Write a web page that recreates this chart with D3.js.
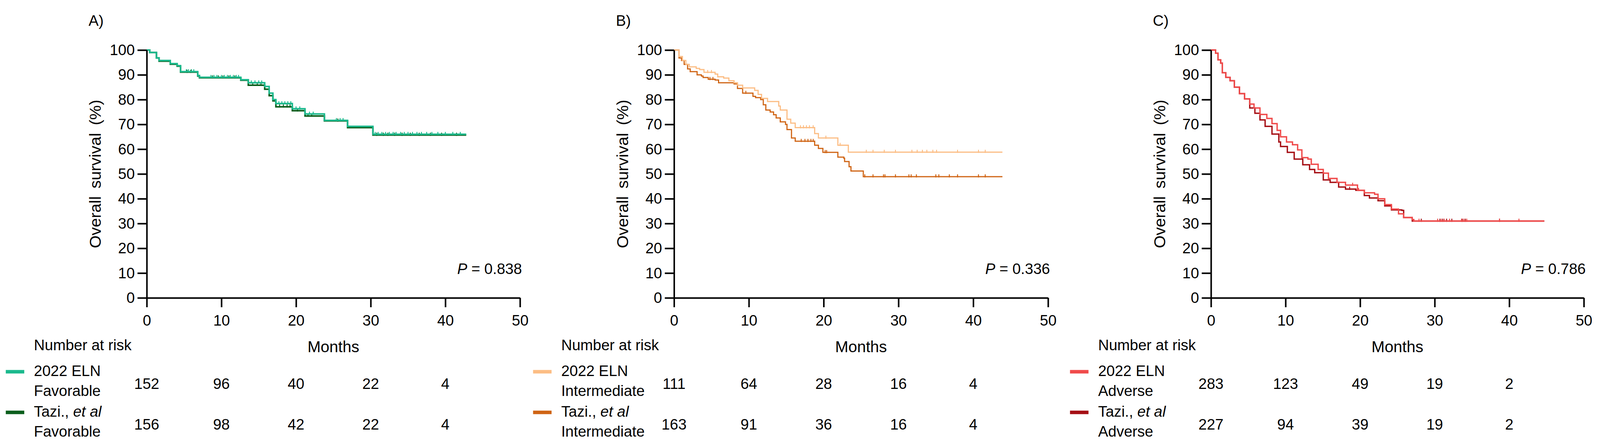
<!DOCTYPE html>
<html>
<head>
<meta charset="utf-8">
<script src="https://cdn.jsdelivr.net/npm/d3@7"></script>
<style>
html, body { margin: 0; padding: 0; overflow: hidden; background: #fff; }
svg { display: block; width: 100vw; height: 100vh; font-family: "Liberation Sans", Arial, sans-serif; }
</style>
</head>
<body>
<svg viewBox="0 0 4154 1141" preserveAspectRatio="none"></svg>
<script>
// x ticks (months) and y ticks (survival %)
const months = [0, 10, 20, 30, 40, 50]
const survTicks = [0, 10, 20, 30, 40, 50, 60, 70, 80, 90, 100]

// KM steps: [month, survival %]
const favEln = [[0,100],[0.4,99],[1.3,96.8],[1.65,95.8],[3.15,94.5],[4.07,93.7],[4.53,91.3],[6.83,89.7],[7.06,89],[12.6,88],[13.6,86.8],[15.8,85.3],[16.4,82.6],[16.9,80],[17.3,78.4],[19.5,76.3],[21.2,74.2],[23.8,71.6],[26.9,69.2],[30.3,66],[42.8,66]]
const favTazi = [[0,100],[0.4,99],[1.3,96.8],[1.65,95.5],[3.15,94.3],[4.07,93.5],[4.53,91.1],[6.83,89.5],[7.06,88.8],[12.6,87.8],[13.6,85.8],[15.8,84.2],[16.4,81.6],[16.9,79.5],[17.3,77.1],[19.5,75.5],[21.2,73.4],[23.8,71.4],[26.9,68.7],[30.3,65.7],[42.8,65.7]]
const intEln = [[0,100],[0.66,97.4],[1.12,95.8],[1.58,94.2],[2.04,93.2],[2.96,92.6],[3.42,92.1],[4.0,91],[5.49,90.3],[5.84,89.2],[6.64,88.7],[7.33,87.6],[8.02,86.8],[8.48,85.8],[9.17,84.7],[10.78,83.7],[11.24,82.1],[11.7,80.5],[12.5,79.2],[14.0,77.4],[14.2,75.8],[15.1,72.1],[15.6,70.5],[16.2,68.7],[18.8,66.3],[19.3,64.5],[21.9,61.6],[23.3,58.8],[43.9,58.8]]
const intTazi = [[0,100],[0.66,96.8],[1.0,95.8],[1.35,94.2],[1.81,92.4],[2.16,91.3],[3.08,90],[3.65,89.5],[3.88,88.9],[4.57,88.2],[5.49,87.9],[5.95,86.8],[8.02,86.3],[8.48,84.5],[9.17,82.6],[10.55,81.3],[10.9,80.8],[11.58,80],[11.93,77.9],[12.27,75.8],[12.85,75],[13.3,73.9],[13.65,72.6],[14.2,71],[14.9,70],[15.1,67.9],[15.7,64.5],[16.2,63.2],[18.8,61.6],[19.3,60.3],[19.9,58.7],[21.9,56.8],[22.7,56.3],[22.8,55],[23.4,52.9],[23.65,51.2],[25.3,48.9],[43.9,48.9]]
const advEln = [[0,100],[0.61,98.7],[0.95,96],[1.3,94.7],[1.53,90.8],[1.99,89],[2.56,87.6],[3.13,85],[3.82,82.4],[4.51,80.3],[5.2,78.2],[5.77,76.6],[6.57,74],[7.49,72.4],[8.18,70.3],[8.87,67.6],[9.33,65],[10.13,62.9],[10.93,61.8],[11.62,59.7],[12.19,56.6],[13.0,56],[13.45,53.9],[14.37,51.8],[15.06,50.3],[15.75,48.2],[16.9,46.6],[18.04,45.5],[19.65,43.4],[20.56,42.4],[21.94,41.8],[22.4,40],[23.3,37.6],[24.2,35.8],[25.15,33.9],[25.84,32.4],[26.99,31.6],[27.2,31],[44.7,31]]
const advTazi = [[0,100],[0.61,98.7],[0.95,96],[1.3,94.7],[1.53,90.8],[1.99,89],[2.56,87.6],[3.13,85],[3.82,82.4],[4.51,80.3],[5.2,76.6],[5.89,74.5],[6.57,71.8],[7.26,69.2],[8.18,66.1],[9.1,62.9],[9.33,61.1],[10.24,58.7],[11.16,56],[12.31,53.7],[13.22,51.8],[13.91,50.5],[15.06,47.6],[15.98,46.6],[17.12,44.7],[18.04,43.9],[19.42,43.4],[20.56,41.3],[21.25,40.3],[22.4,39.2],[23.3,37.1],[24.2,35.5],[25.6,35.3],[25.84,32.4],[26.99,31],[44.7,31]]

// censor marks (months)
const favElnCens = [5.3,5.6,6.0,6.3,8.6,9.0,9.4,10.0,10.4,10.8,11.2,11.6,12.0,12.3,14.0,14.5,15.0,15.4,17.7,18.1,18.5,18.9,19.3,20.0,20.5,21.8,22.3,25.4,25.9,26.3,30.6,31.0,31.5,32.0,32.5,33.0,33.4,34.0,34.5,35.0,35.6,36.2,36.8,37.5,38.2,39.0,40.0,41.0,42.0]
const favTaziCens = [5.4,5.9,8.8,9.6,10.2,11.0,11.8,14.2,14.8,15.3,17.8,18.3,18.8,19.2,20.2,21.6,22.1,25.6,30.8,31.7,32.3,33.2,34.2,35.3,36.5,38.0,39.5,41.5]
const intElnCens = [4.5,5.0,16.9,17.3,17.7,18.1,18.6,20.3,22.2,25.7,26.6,28.1,29.6,31.8,32.5,33.2,33.8,34.6,35.1,37.9,40.7,41.6]
const intTaziCens = [4.8,5.2,9.6,17.0,17.5,17.9,18.3,18.6,20.2,20.4,25.5,26.6,28.0,28.2,29.6,31.4,31.7,32.4,35.0,35.4,36.8,37.9,40.7,41.6]
const advElnCens = [19.0,19.8,27.9,30.4,30.9,31.3,32.0,33.6,33.9,34.3,38.7,41.3]
const advTaziCens = [18.6,28.2,30.7,31.1,31.6,32.3,33.7,34.1,38.7]

// number at risk
const riskFavEln = [152, 96, 40, 22, 4]
const riskFavTazi = [156, 98, 42, 22, 4]
const riskIntEln = [111, 64, 28, 16, 4]
const riskIntTazi = [163, 91, 36, 16, 4]
const riskAdvEln = [283, 123, 49, 19, 2]
const riskAdvTazi = [227, 94, 39, 19, 2]

const panels = [
	{ label: 'A)', x0: 381, x1: 1350, p: '0.838', grp: 'Favorable', lw: 4,
		series: [
			{ data: favTazi, cens: favTaziCens, color: '#0b5e1c', risk: riskFavTazi },
			{ data: favEln, cens: favElnCens, color: '#1bb98d', risk: riskFavEln }
		] },
	{ label: 'B)', x0: 1750, x1: 2721, p: '0.336', grp: 'Intermediate', lw: 3,
		series: [
			{ data: intTazi, cens: intTaziCens, color: '#cf6414', risk: riskIntTazi },
			{ data: intEln, cens: intElnCens, color: '#fcbd84', risk: riskIntEln }
		] },
	{ label: 'C)', x0: 3144, x1: 4112, p: '0.786', grp: 'Adverse', lw: 3.5,
		series: [
			{ data: advTazi, cens: advTaziCens, color: '#a50f15', risk: riskAdvTazi },
			{ data: advEln, cens: advElnCens, color: '#f04a4a', risk: riskAdvEln }
		] }
]

const yTop = 128, yBot = 762
const svg = d3.select('svg')

panels.forEach(p => {
	let g = svg.append('g')

	let x = d3.scaleLinear().domain([0, 50]).range([p.x0, p.x1])
	let y = d3.scaleLinear().domain([0, 100]).range([yBot, yTop])

	// curves
	let line = d3.line()
	.x(d => x(d[0]))
	.y(d => y(d[1]))
	.curve(d3.curveStepAfter)

	p.series.forEach(s => {
		g.append('path')
		.attr('d', line(s.data))
		.attr('fill', 'none')
		.attr('stroke', s.color)
		.attr('stroke-width', p.lw)

		// survival at time t for censor ticks
		let at = t => {
			let v = 100
			s.data.forEach(d => { if (d[0] <= t) v = d[1] })
			return v
		}
		g.selectAll(null)
		.data(s.cens).enter()
		.append('line')
		.attr('x1', d => x(d)).attr('x2', d => x(d))
		.attr('y1', d => y(at(d)) - 6)
		.attr('y2', d => y(at(d)) + 2)
		.attr('stroke', s.color)
		.attr('stroke-width', 2.5)
	})

	// axes
	let ax = g.append('g')
	.attr('transform', `translate(${p.x0},0)`)
	.call(d3.axisLeft(y).tickValues(survTicks).tickSize(24).tickSizeOuter(0).tickPadding(7))
	let bx = g.append('g')
	.attr('transform', `translate(0,${yBot})`)
	.call(d3.axisBottom(x).tickValues(months).tickSize(24).tickSizeOuter(0).tickPadding(19))

	;[ax, bx].forEach(a => {
		a.select('.domain').attr('stroke', '#000').attr('stroke-width', 4)
		a.selectAll('.tick line').attr('stroke', '#000').attr('stroke-width', 4)
		a.selectAll('.tick text')
		.attr('fill', '#000')
		.style('font-size', '39px')
		.style('font-family', '"Liberation Sans", Arial, sans-serif')
	})

	// panel letter
	g.append('text')
	.attr('x', p.x0 - 151).attr('y', 66)
	.style('font-size', '39px')
	.text(p.label)

	// y title
	g.append('text')
	.attr('transform', `translate(${p.x0 - 119},${(yTop + yBot) / 2}) rotate(-90)`)
	.attr('text-anchor', 'middle')
	.style('font-size', '42px')
	.style('word-spacing', '8px')
	.text('Overall survival (%)')

	// x title
	g.append('text')
	.attr('x', (p.x0 + p.x1) / 2).attr('y', 901)
	.attr('text-anchor', 'middle')
	.style('font-size', '41px')
	.text('Months')

	// p value
	let pt = g.append('text')
	.attr('x', p.x1 + 5).attr('y', 701)
	.attr('text-anchor', 'end')
	.style('font-size', '39px')
	pt.append('tspan').style('font-style', 'italic').text('P')
	pt.append('tspan').text(' = ' + p.p)

	// number at risk table
	g.append('text')
	.attr('x', p.x0 - 293).attr('y', 896)
	.style('font-size', '39px')
	.text('Number at risk')

	let rows = [
		{ s: p.series[1], y: 951, lines: [['2022 ELN'], [p.grp]] },
		{ s: p.series[0], y: 1055, lines: [['Tazi., ', 'et al'], [p.grp]] }
	]
	rows.forEach(r => {
		g.append('rect')
		.attr('x', p.x0 - 366).attr('y', r.y - 4.5)
		.attr('width', 48).attr('height', 9)
		.attr('fill', r.s.color)

		r.lines.forEach((ln, i) => {
			let t = g.append('text')
			.attr('x', p.x0 - 293).attr('y', r.y + 11 + i * 51)
			.style('font-size', '39px')
			ln.forEach((part, j) => {
				t.append('tspan').style('font-style', j == 1 ? 'italic' : 'normal').text(part)
			})
		})

		g.selectAll(null)
		.data(r.s.risk).enter()
		.append('text')
		.attr('x', (d, i) => x(months[i]))
		.attr('y', r.y + 44)
		.attr('text-anchor', 'middle')
		.style('font-size', '39px')
		.text(d => d)
	})
})
</script>
</body>
</html>
